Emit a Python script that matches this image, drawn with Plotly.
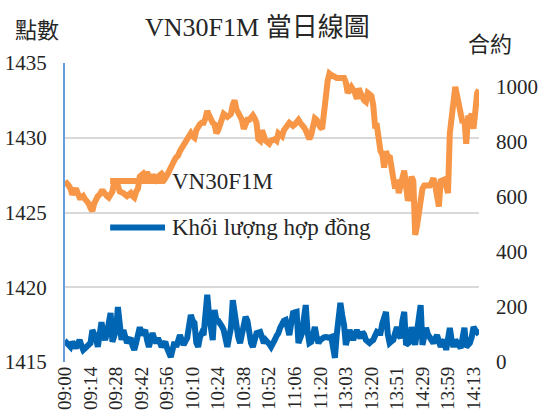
import plotly.graph_objects as go

tick_labels = ["09:00", "09:14", "09:28", "09:42", "09:56", "10:10", "10:24", "10:38",
               "10:52", "11:06", "11:20", "13:03", "13:20", "13:51", "14:29", "13:59", "14:13"]

price = [
    1427.1, 1427.0, 1426.8, 1426.6, 1426.2, 1426.4, 1426.6, 1426.3, 1426.0, 1426.0,
    1426.1, 1425.9, 1425.8, 1425.6, 1425.3, 1425.1, 1425.6, 1425.9, 1426.1, 1426.2,
    1426.4, 1426.4, 1426.2, 1426.1, 1426.0, 1426.2, 1426.4, 1427.1, 1426.9, 1426.8,
    1426.4, 1426.4, 1426.3, 1426.2, 1426.1, 1426.2, 1426.3, 1426.1, 1426.0, 1426.4,
    1426.6, 1427.4, 1427.5, 1427.6, 1427.4, 1427.7, 1427.4, 1427.3, 1427.4, 1427.4,
    1427.2, 1427.4, 1427.5, 1427.6, 1427.4, 1427.3, 1427.5, 1427.8, 1428.1, 1428.3,
    1428.5, 1428.7, 1428.8, 1429.1, 1429.3, 1429.6, 1429.7, 1429.9, 1430.1, 1430.3,
    1430.1, 1430.0, 1430.5, 1430.8, 1430.9, 1431.0, 1431.0, 1431.3, 1431.8, 1431.5,
    1431.2, 1431.0, 1430.9, 1430.3, 1430.5, 1430.8, 1431.3, 1431.6, 1431.5, 1431.4,
    1431.5, 1431.6, 1432.2, 1432.5, 1431.9, 1431.7, 1431.4, 1431.2, 1430.6, 1430.9,
    1431.2, 1431.2, 1431.3, 1431.5, 1431.3, 1431.0, 1429.9, 1429.8, 1430.5, 1430.1,
    1429.8, 1429.7, 1429.6, 1429.8, 1429.9, 1429.9, 1429.8, 1430.3, 1430.2, 1430.1,
    1430.5, 1430.7, 1430.8, 1431.0, 1430.9, 1430.8, 1430.9, 1431.0, 1431.2, 1431.0,
    1430.9, 1430.7, 1430.5, 1430.1, 1429.9, 1430.2, 1430.6, 1431.3, 1431.2, 1430.9,
    1430.7, 1430.6, 1431.4, 1432.7, 1433.8, 1434.3, 1434.2, 1434.1, 1434.1, 1434.0,
    1434.0, 1434.0, 1434.0, 1434.0, 1433.7, 1433.0, 1433.2, 1433.4, 1433.2, 1433.0,
    1432.6, 1433.3, 1433.0, 1432.7, 1432.5, 1432.4, 1433.0, 1432.9, 1432.8, 1432.2,
    1430.8, 1430.8, 1429.8, 1429.1, 1428.9, 1428.0, 1429.1, 1428.7, 1428.8, 1427.7,
    1427.3, 1426.6, 1427.2, 1426.3, 1426.8, 1427.5, 1427.8, 1426.8, 1425.8, 1426.1,
    1427.4, 1427.1, 1423.5, 1424.1, 1424.9, 1426.1, 1426.6, 1426.8, 1426.8, 1426.9,
    1426.8, 1427.0, 1427.3, 1426.8, 1425.8, 1425.4, 1427.1, 1427.2, 1427.2, 1426.8,
    1426.3, 1430.3, 1431.5, 1432.3, 1433.4, 1432.8, 1432.3, 1431.5, 1431.0, 1431.2,
    1429.6, 1431.3, 1431.3, 1431.6, 1430.6, 1431.8, 1433.0, 1433.2,
]

volume = [
    60, 69, 62, 55, 73, 60, 51, 65, 80, 60,
    44, 50, 55, 65, 69, 116, 100, 87, 55, 90,
    145, 100, 80, 105, 150, 178, 73, 90, 116, 200,
    120, 80, 116, 90, 69, 80, 87, 60, 44, 70,
    100, 127, 98, 110, 116, 80, 55, 80, 105, 85,
    69, 87, 70, 55, 65, 73, 50, 35, 18, 45,
    73, 55, 70, 98, 80, 62, 75, 87, 130, 171,
    150, 142, 70, 55, 90, 105, 98, 170, 244, 170,
    127, 80, 189, 153, 150, 142, 130, 116, 80, 55,
    90, 124, 225, 170, 116, 90, 69, 110, 142, 164,
    150, 90, 69, 55, 80, 105, 107, 109, 90, 69,
    80, 75, 65, 55, 65, 80, 95, 105, 125, 142,
    150, 153, 120, 98, 140, 178, 180, 182, 69, 90,
    105, 160, 207, 110, 69, 73, 100, 127, 90, 69,
    80, 87, 90, 91, 87, 88, 91, 60, 15, 100,
    180, 215, 170, 135, 62, 90, 116, 100, 80, 100,
    116, 100, 87, 109, 100, 80, 75, 69, 75, 80,
    95, 109, 105, 105, 140, 175, 182, 100, 69, 75,
    80, 105, 127, 100, 87, 150, 182, 62, 65, 73,
    127, 90, 62, 110, 170, 207, 62, 90, 124, 100,
    87, 80, 69, 85, 98, 75, 55, 70, 80, 44,
    90, 124, 80, 55, 80, 65, 60, 51, 100, 124,
    55, 60, 69, 90, 127, 116, 110, 100,
]

series_names = ["VN30F1M", "Khối lượng hợp đồng"]
colors = ["#F79646", "#0066B3"]

idx = list(range(len(price)))
tick_step = 14
tick_vals = idx[::tick_step][:len(tick_labels)]

FONT = "'Liberation Serif', 'Times New Roman', serif"
CJK = "'Noto Sans CJK TC', sans-serif"

fig = go.Figure()
fig.add_trace(go.Scatter(x=idx, y=price, mode="lines", name=series_names[0],
                         line=dict(color=colors[0], width=6), yaxis="y", showlegend=False))
fig.add_trace(go.Scatter(x=idx, y=volume, mode="lines", name=series_names[1],
                         line=dict(color=colors[1], width=6), yaxis="y2", showlegend=False))

fig.update_layout(
    width=545, height=418,
    margin=dict(l=65, r=66, t=63, b=56),
    paper_bgcolor="white", plot_bgcolor="white",
    font=dict(family=FONT, size=21, color="#262626"),
    xaxis=dict(range=[0, len(price) - 1], tickmode="array", tickvals=tick_vals,
               ticktext=tick_labels, tickangle=-90, tickfont=dict(family=FONT, size=19),
               showgrid=False, zeroline=False, showline=False, ticks="",
               automargin=False),
    yaxis=dict(range=[1415, 1435], dtick=5, tick0=1415, showgrid=True,
               gridcolor="#D9D9D9", gridwidth=1.5, zeroline=False,
               showline=True, linecolor="#6A9BDB", linewidth=2, ticks="",
               tickfont=dict(family=FONT, size=21),
               ticklabelstandoff=12, automargin=False),
    yaxis2=dict(range=[0, 1087], tickvals=[0, 200, 400, 600, 800, 1000],
                overlaying="y", side="right", showgrid=False, zeroline=False,
                tickfont=dict(family=FONT, size=21),
                showline=False, ticks="", ticklabelstandoff=16, automargin=False),
)

# Manual legend (line samples and labels) inside the plot area
legend_y = [0.605, 0.45]
for name, col, ly in zip(series_names, colors, legend_y):
    fig.add_shape(type="line", xref="paper", yref="paper", x0=0.109, x1=0.2415,
                  y0=ly, y1=ly, line=dict(color=col, width=6))
    fig.add_annotation(xref="paper", yref="paper", x=0.254, y=ly, text=name,
                       showarrow=False, xanchor="left", yanchor="middle",
                       font=dict(family=FONT, size=23, color="#262626"))

fig.add_annotation(xref="paper", yref="paper", x=0.464, y=1.12, text="VN30F1M 當日線圖",
                   showarrow=False, xanchor="center", yanchor="middle",
                   font=dict(family="'Liberation Serif', 'Noto Sans CJK TC', serif",
                             size=26, color="#262626"))
fig.add_annotation(xref="paper", yref="paper", x=-0.068, y=1.117, text="點數",
                   showarrow=False, xanchor="center", yanchor="middle",
                   font=dict(family=CJK, size=22, color="#262626"))
fig.add_annotation(xref="paper", yref="paper", x=1.027, y=1.07, text="合約",
                   showarrow=False, xanchor="center", yanchor="middle",
                   font=dict(family=CJK, size=22, color="#262626"))

fig.write_html("out.html", config={"displayModeBar": False},
               post_script="document.body.style.margin='0';")
